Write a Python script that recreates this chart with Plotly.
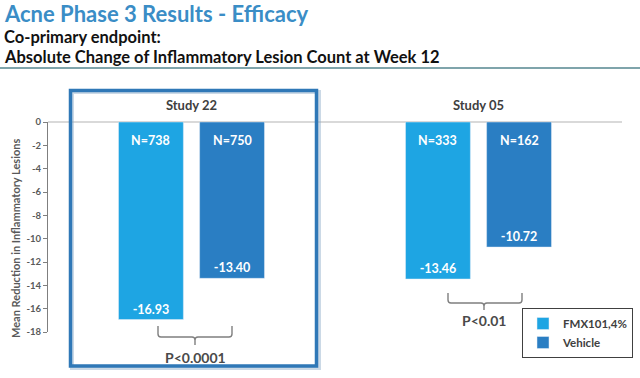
import plotly.graph_objects as go

# ---- data ----
studies = ["Study 22", "Study 05"]
fmx_values = [-16.93, -13.46]
vehicle_values = [-13.40, -10.72]
fmx_n = ["N=738", "N=333"]
vehicle_n = ["N=750", "N=162"]
p_values = ["P<0.0001", "P<0.01"]
y_ticks = [0, -2, -4, -6, -8, -10, -12, -14, -16, -18]
y_tick_labels = ["0", "-2", "-4", "-6", "-8", "-10", "-12", "-14", "-16", "-18"]
series_names = ["FMX101,4%", "Vehicle"]

# ---- layout geometry ----
W, H = 640, 378
L, R, T, B = 48, 18, 122, 46
PW, PH = W - L - R, H - T - B
FONT = "Lato, 'Open Sans', sans-serif"
C_FMX = "#1ea5e3"
C_VEH = "#2a7ec3"
BARGAP = 0.435
GROUPGAP = 0.2
slot = (1 - BARGAP) / 2
offs = [-slot / 2, slot / 2]


def px(xp):
    return (xp - L) / PW


def py(yp):
    return (H - B - yp) / PH


fig = go.Figure()
for vals, name, col in ((fmx_values, series_names[0], C_FMX),
                        (vehicle_values, series_names[1], C_VEH)):
    fig.add_trace(go.Bar(
        x=studies, y=vals, name=name, marker_color=col,
        text=[f"{v:.2f}" for v in vals], textposition="inside",
        insidetextanchor="end", textangle=0,
        textfont=dict(color="white", size=12.5, family=FONT, weight="bold"),
    ))

ann = []
# N labels at the top of each bar
for i in range(len(studies)):
    for off, lab in ((offs[0], fmx_n[i]), (offs[1], vehicle_n[i])):
        ann.append(dict(x=i + off, y=0, xref="x", yref="y", text=lab,
                        showarrow=False, xanchor="center", yanchor="top", yshift=-9,
                        font=dict(color="white", size=12.5, family=FONT, weight="bold")))

# braces and p-values
brace_px = [  # (x_left, x_right, x_mid, y_top, y_h, y_tip, y_text) in pixels
    (158, 232, 195, 326, 337, 345, 357),
    (448, 522, 484, 293, 303, 310, 320),
]
shapes = []
for (xl, xr, xm, yt, yh, ytip, ytxt), p in zip(brace_px, p_values):
    r = 3
    path = (f"M {px(xl)},{py(yt)} L {px(xl)},{py(yh - r)} Q {px(xl)},{py(yh)} {px(xl + r)},{py(yh)} "
            f"L {px(xm - r)},{py(yh)} Q {px(xm)},{py(yh)} {px(xm)},{py(yh + r)} L {px(xm)},{py(ytip)} "
            f"M {px(xm)},{py(yh + r)} Q {px(xm)},{py(yh)} {px(xm + r)},{py(yh)} "
            f"L {px(xr - r)},{py(yh)} Q {px(xr)},{py(yh)} {px(xr)},{py(yh - r)} L {px(xr)},{py(yt)}")
    shapes.append(dict(type="path", xref="paper", yref="paper", path=path,
                       line=dict(color="#7f7f7f", width=1.4)))
    ann.append(dict(x=px(xm), y=py(ytxt), xref="paper", yref="paper", text=p,
                    xanchor="center", yanchor="middle", showarrow=False,
                    font=dict(size=14, color="#4a4a4a", family=FONT, weight="bold")))

# box around Study 22 (shadow + frame)
shapes.append(dict(type="rect", xref="paper", yref="paper",
                   x0=px(72), x1=px(319), y0=py(368), y1=py(92),
                   line=dict(color="rgba(140,170,200,0.45)", width=4)))
shapes.append(dict(type="rect", xref="paper", yref="paper",
                   x0=px(70.5), x1=px(316.5), y0=py(366), y1=py(90.5),
                   line=dict(color="#2f78b7", width=3.5)))

# header rule
shapes.append(dict(type="line", xref="paper", yref="paper",
                   x0=px(0), x1=px(W), y0=py(68), y1=py(68),
                   line=dict(color="#7fa4ab", width=2)))

# titles
ann.append(dict(x=px(2), y=py(-2), xref="paper", yref="paper", xanchor="left", yanchor="top",
                text="Acne Phase 3 Results - Efficacy", showarrow=False,
                font=dict(size=22, color="#3a8dc6", family=FONT, weight="bold")))
ann.append(dict(x=px(2), y=py(25), xref="paper", yref="paper", xanchor="left", yanchor="top",
                text="Co-primary endpoint:", showarrow=False,
                font=dict(size=16.5, color="#111111", family=FONT, weight="bold")))
ann.append(dict(x=px(2), y=py(45), xref="paper", yref="paper", xanchor="left", yanchor="top",
                text="Absolute Change of Inflammatory Lesion Count at Week 12", showarrow=False,
                font=dict(size=16.5, color="#111111", family=FONT, weight="bold")))

# y-axis title
ann.append(dict(x=px(15), y=py(239), xref="paper", yref="paper", textangle=-90,
                xanchor="center", yanchor="middle",
                text="Mean Reduction in Inflammatory Lesions", showarrow=False,
                font=dict(size=11, color="#595959", family=FONT, weight="bold")))

fig.update_layout(
    width=W, height=H,
    margin=dict(l=L, r=R, t=T, b=B, pad=0, autoexpand=False),
    paper_bgcolor="white", plot_bgcolor="white",
    barmode="group", bargap=BARGAP, bargroupgap=GROUPGAP,
    font=dict(family=FONT, color="#595959"),
    showlegend=True,
    legend=dict(x=px(633), y=py(308), xanchor="right", yanchor="top",
                bordercolor="#404040", borderwidth=1, bgcolor="white",
                font=dict(size=11.5, color="#404040", family=FONT, weight="bold"),
                itemwidth=30, tracegroupgap=2),
    xaxis=dict(side="top", type="category", showline=False, showgrid=False, zeroline=False,
               automargin=False,
               ticks="outside", ticklen=6, tickcolor="rgba(0,0,0,0)",
               tickfont=dict(size=13, color="#404040", family=FONT, weight="bold"),
               range=[-0.5, 1.5]),
    yaxis=dict(range=[-18, 0], tickvals=y_ticks, ticktext=y_tick_labels, automargin=False,
               showgrid=False, zeroline=True, zerolinecolor="#d9d9d9", zerolinewidth=1.5,
               showline=True, linecolor="#7f7f7f", linewidth=1,
               ticks="outside", ticklen=4, tickcolor="#7f7f7f",
               tickfont=dict(size=9.5, color="#595959", family=FONT, weight="bold")),
    annotations=ann, shapes=shapes,
)

fig.write_html("out.html", config={"displayModeBar": False},
               post_script="document.body.style.margin='0';document.body.style.overflow='hidden';")
